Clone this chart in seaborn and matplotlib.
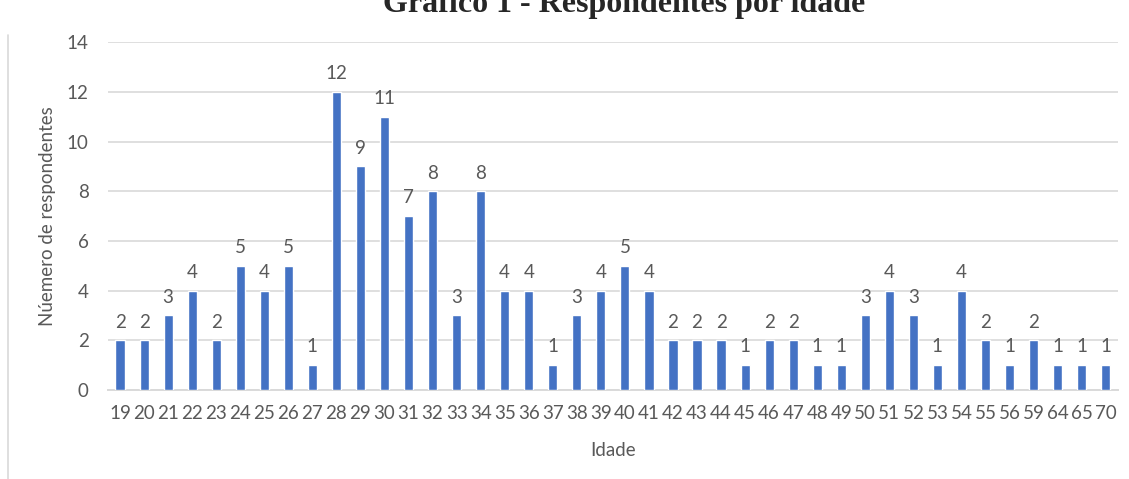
import matplotlib
matplotlib.use("Agg")
import matplotlib.pyplot as plt
from matplotlib.lines import Line2D
import seaborn as sns
import pandas as pd

ages = [19, 20, 21, 22, 23, 24, 25, 26, 27, 28, 29, 30, 31, 32, 33, 34, 35, 36,
        37, 38, 39, 40, 41, 42, 43, 44, 45, 46, 47, 48, 49, 50, 51, 52, 53, 54,
        55, 56, 59, 64, 65, 70]
counts = [2, 2, 3, 4, 2, 5, 4, 5, 1, 12, 9, 11, 7, 8, 3, 8, 4, 4,
          1, 3, 4, 5, 4, 2, 2, 2, 1, 2, 2, 1, 1, 3, 4, 3, 1, 4,
          2, 1, 2, 1, 1, 1]
y_ticks = [0, 2, 4, 6, 8, 10, 12, 14]

title = "Gráfico 1 - Respondentes por idade"
x_label = "Idade"
y_label = "Núemero de respondentes"

sns.set_theme(style="white")
plt.rcParams["font.family"] = ["Lato", "DejaVu Sans"]

text_color = "#595959"
grid_color = "#D9D9D9"
bar_color = "#4472C4"
fs = 13.5

df = pd.DataFrame({"idade": [str(a) for a in ages], "n": counts})

fig = plt.figure(figsize=(11.29, 4.79), dpi=100)
ax = fig.add_axes([0.0957, 0.1858, 0.8943, 0.7262])

sns.barplot(data=df, x="idade", y="n", color=bar_color, width=0.38,
            saturation=1, ax=ax, zorder=3)

ax.set_ylim(0, 14)
ax.set_xlim(-0.5, len(ages) - 0.5)
ax.set_yticks(y_ticks)
ax.yaxis.grid(True, color=grid_color, linewidth=1.2)
ax.set_axisbelow(True)
for s in ["top", "right", "left"]:
    ax.spines[s].set_visible(False)
ax.spines["bottom"].set_color(grid_color)
ax.spines["bottom"].set_linewidth(1.4)
ax.tick_params(axis="both", length=0, labelsize=fs, colors=text_color)
ax.tick_params(axis="x", pad=11)
ax.tick_params(axis="y", pad=14)

for i, v in enumerate(counts):
    ax.annotate(str(v), (i, v), xytext=(0, 7), textcoords="offset points",
                ha="center", va="bottom", fontsize=fs, color=text_color)

ax.set_xlabel(x_label, fontsize=fs, color=text_color, labelpad=14)
ax.set_ylabel(y_label, fontsize=fs, color=text_color, labelpad=8)

fig.text(0.553, 0.975, title, ha="center", va="baseline",
         fontsize=23, fontweight="bold", family=["Liberation Serif"])

fig.add_artist(Line2D([0.0075, 0.0075], [0.0, 0.927], transform=fig.transFigure,
                      color=grid_color, linewidth=1.2))

fig.savefig("out.png", dpi=100)
